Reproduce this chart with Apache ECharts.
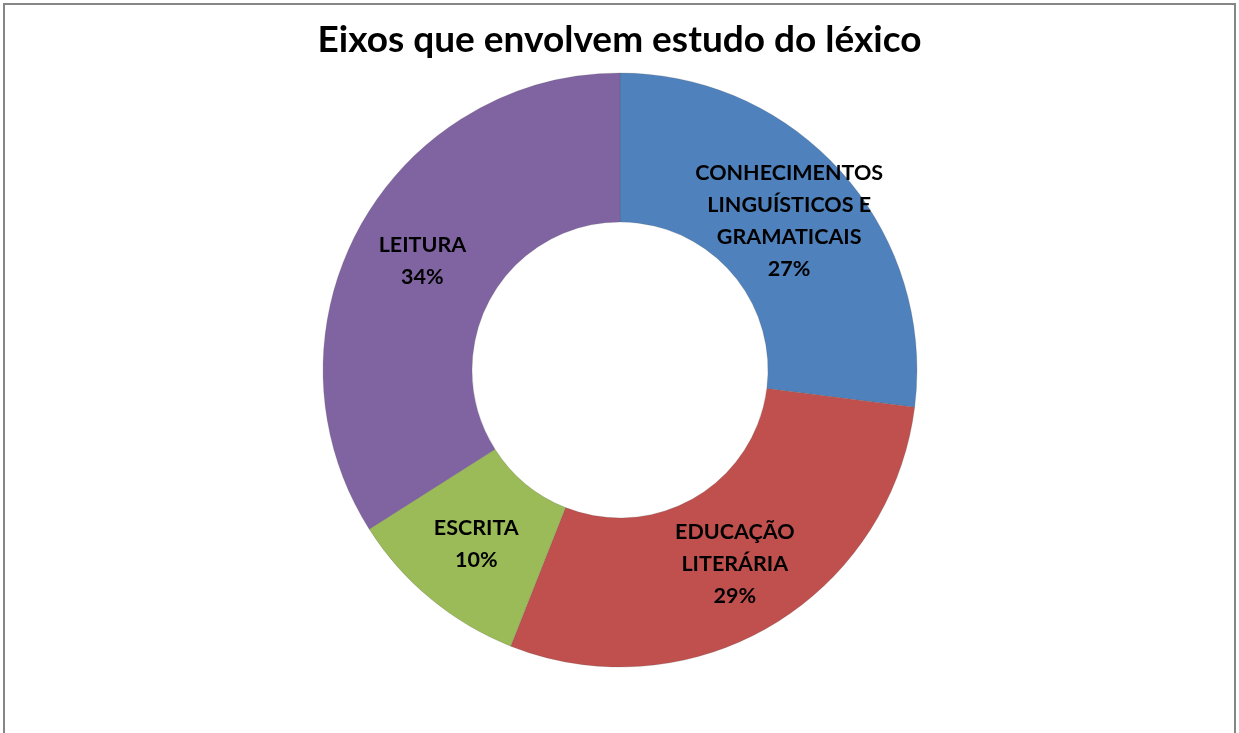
<!DOCTYPE html>
<html><head><meta charset="utf-8">
<script src="https://cdn.jsdelivr.net/npm/echarts@6/dist/echarts.min.js"></script>
<style>html,body{margin:0;padding:0;background:#fff;}#c{width:1239px;height:733px;}</style>
</head><body><div id="c"></div>
<script>
const categories = ['CONHECIMENTOS\nLINGUÍSTICOS E\nGRAMATICAIS', 'EDUCAÇÃO\nLITERÁRIA', 'ESCRITA', 'LEITURA'];
const values = [27, 29, 10, 34];
const colors = ['#4F81BD', '#C0504D', '#9BBB59', '#8064A2'];

const chart = echarts.init(document.getElementById('c'));
chart.setOption({
  animation: false,
  title: {
    text: 'Eixos que envolvem estudo do léxico',
    left: 'center', top: 17,
    textStyle: { fontFamily: 'Lato', fontWeight: 'bold', fontSize: 37, color: '#000' }
  },
  graphic: [{
    type: 'rect', shape: { x: 4, y: 4, width: 1231, height: 740 },
    style: { fill: 'none', stroke: '#868686', lineWidth: 2 }, silent: true
  }],
  series: [{
    type: 'pie',
    center: [620, 370],
    radius: [148, 297],
    startAngle: 90,
    clockwise: true,
    data: categories.map((c, i) => ({ name: c, value: values[i], itemStyle: { color: colors[i] } })),
    itemStyle: { borderColor: 'rgba(80,80,80,0.4)', borderWidth: 0.5 },
    label: {
      show: true, position: 'inside',
      formatter: p => p.name + '\n' + p.value + '%',
      fontFamily: 'Lato', fontWeight: 'bold', fontSize: 21.5, lineHeight: 32, color: '#000'
    },
    labelLine: { show: false },
    emphasis: { disabled: true }
  }]
});
</script></body></html>
